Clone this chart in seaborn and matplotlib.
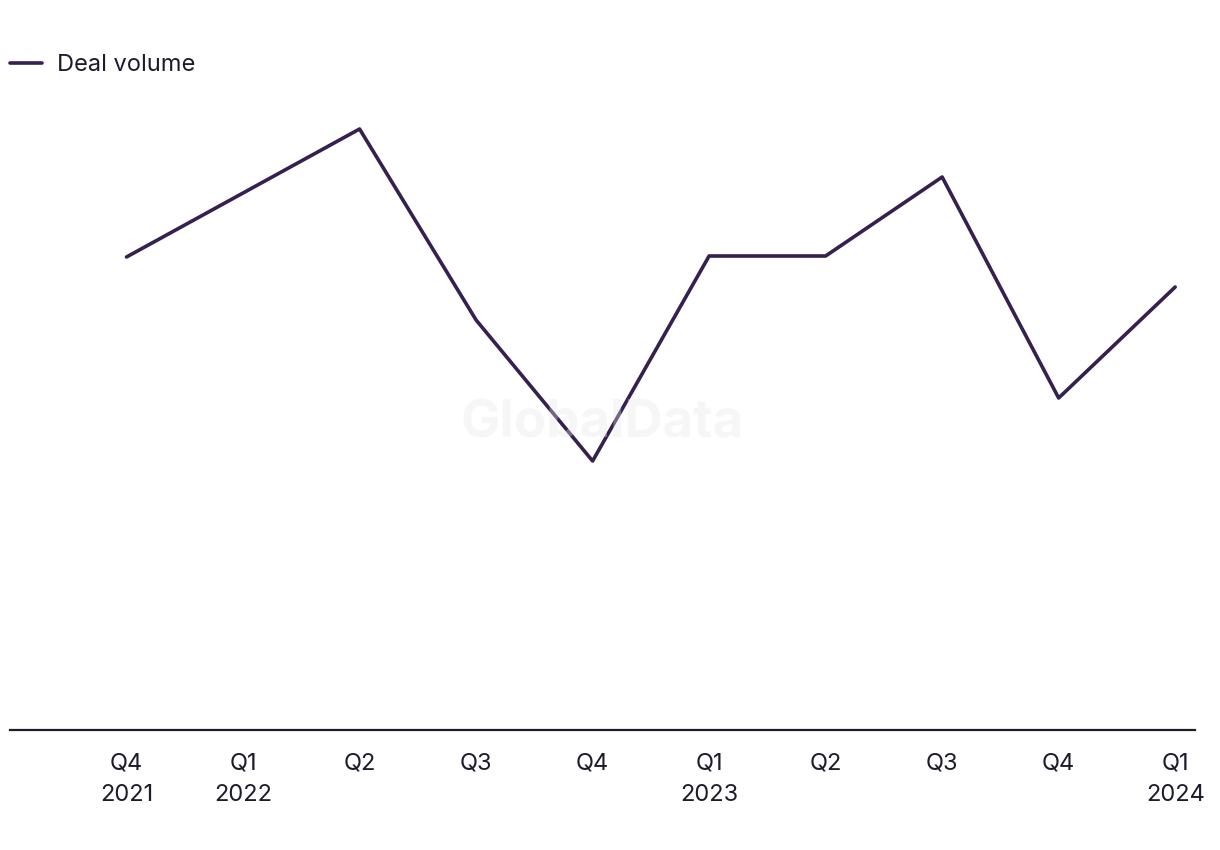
import matplotlib
matplotlib.use('Agg')
import matplotlib.pyplot as plt
import seaborn as sns
import pandas as pd

# deal volume per quarter
quarters = ['Q4\n2021', 'Q1\n2022', 'Q2', 'Q3', 'Q4', 'Q1\n2023', 'Q2', 'Q3', 'Q4', 'Q1\n2024']
deal_volume = [47.3, 53.7, 60.1, 41.0, 26.9, 47.4, 47.4, 55.3, 33.2, 44.3]

line_color = '#35204f'
text_color = '#1c1c2b'

sns.set_theme(style='white')
plt.rcParams['font.family'] = ['Inter', 'DejaVu Sans']

df = pd.DataFrame({'pos': range(len(quarters)), 'volume': deal_volume})

fig = plt.figure(figsize=(12.2, 8.5), dpi=100)
ax = fig.add_axes([10 / 1220, 1 - 730 / 850, 1185 / 1220, 630 / 850])

sns.lineplot(data=df, x='pos', y='volume', ax=ax, color=line_color,
             linewidth=2.6, label='Deal volume')

ax.set_xlim(-1.0, 9.17)
ax.set_ylim(0, 63)
ax.set_xticks(range(len(quarters)))
ax.set_xticklabels(quarters, fontsize=17, color=text_color, linespacing=1.55)
ax.set_yticks([])
ax.set_xlabel('')
ax.set_ylabel('')
ax.tick_params(axis='x', length=0, pad=16)

for side in ['top', 'right', 'left']:
    ax.spines[side].set_visible(False)
ax.spines['bottom'].set_color(text_color)
ax.spines['bottom'].set_linewidth(1.6)

# watermark
ax.text(0.5, 0.485, 'GlobalData', transform=ax.transAxes, ha='center', va='center',
        fontsize=38, fontweight='bold', color='#e8e8e8', alpha=0.35, zorder=5)

ax.legend(loc='upper left', bbox_to_anchor=(10 / 1220, 1 - 54 / 850),
          bbox_transform=fig.transFigure, frameon=False, fontsize=17,
          handlelength=1.35, handletextpad=0.65, borderaxespad=0, borderpad=0,
          labelcolor=text_color)

fig.savefig('out.png', dpi=100)
